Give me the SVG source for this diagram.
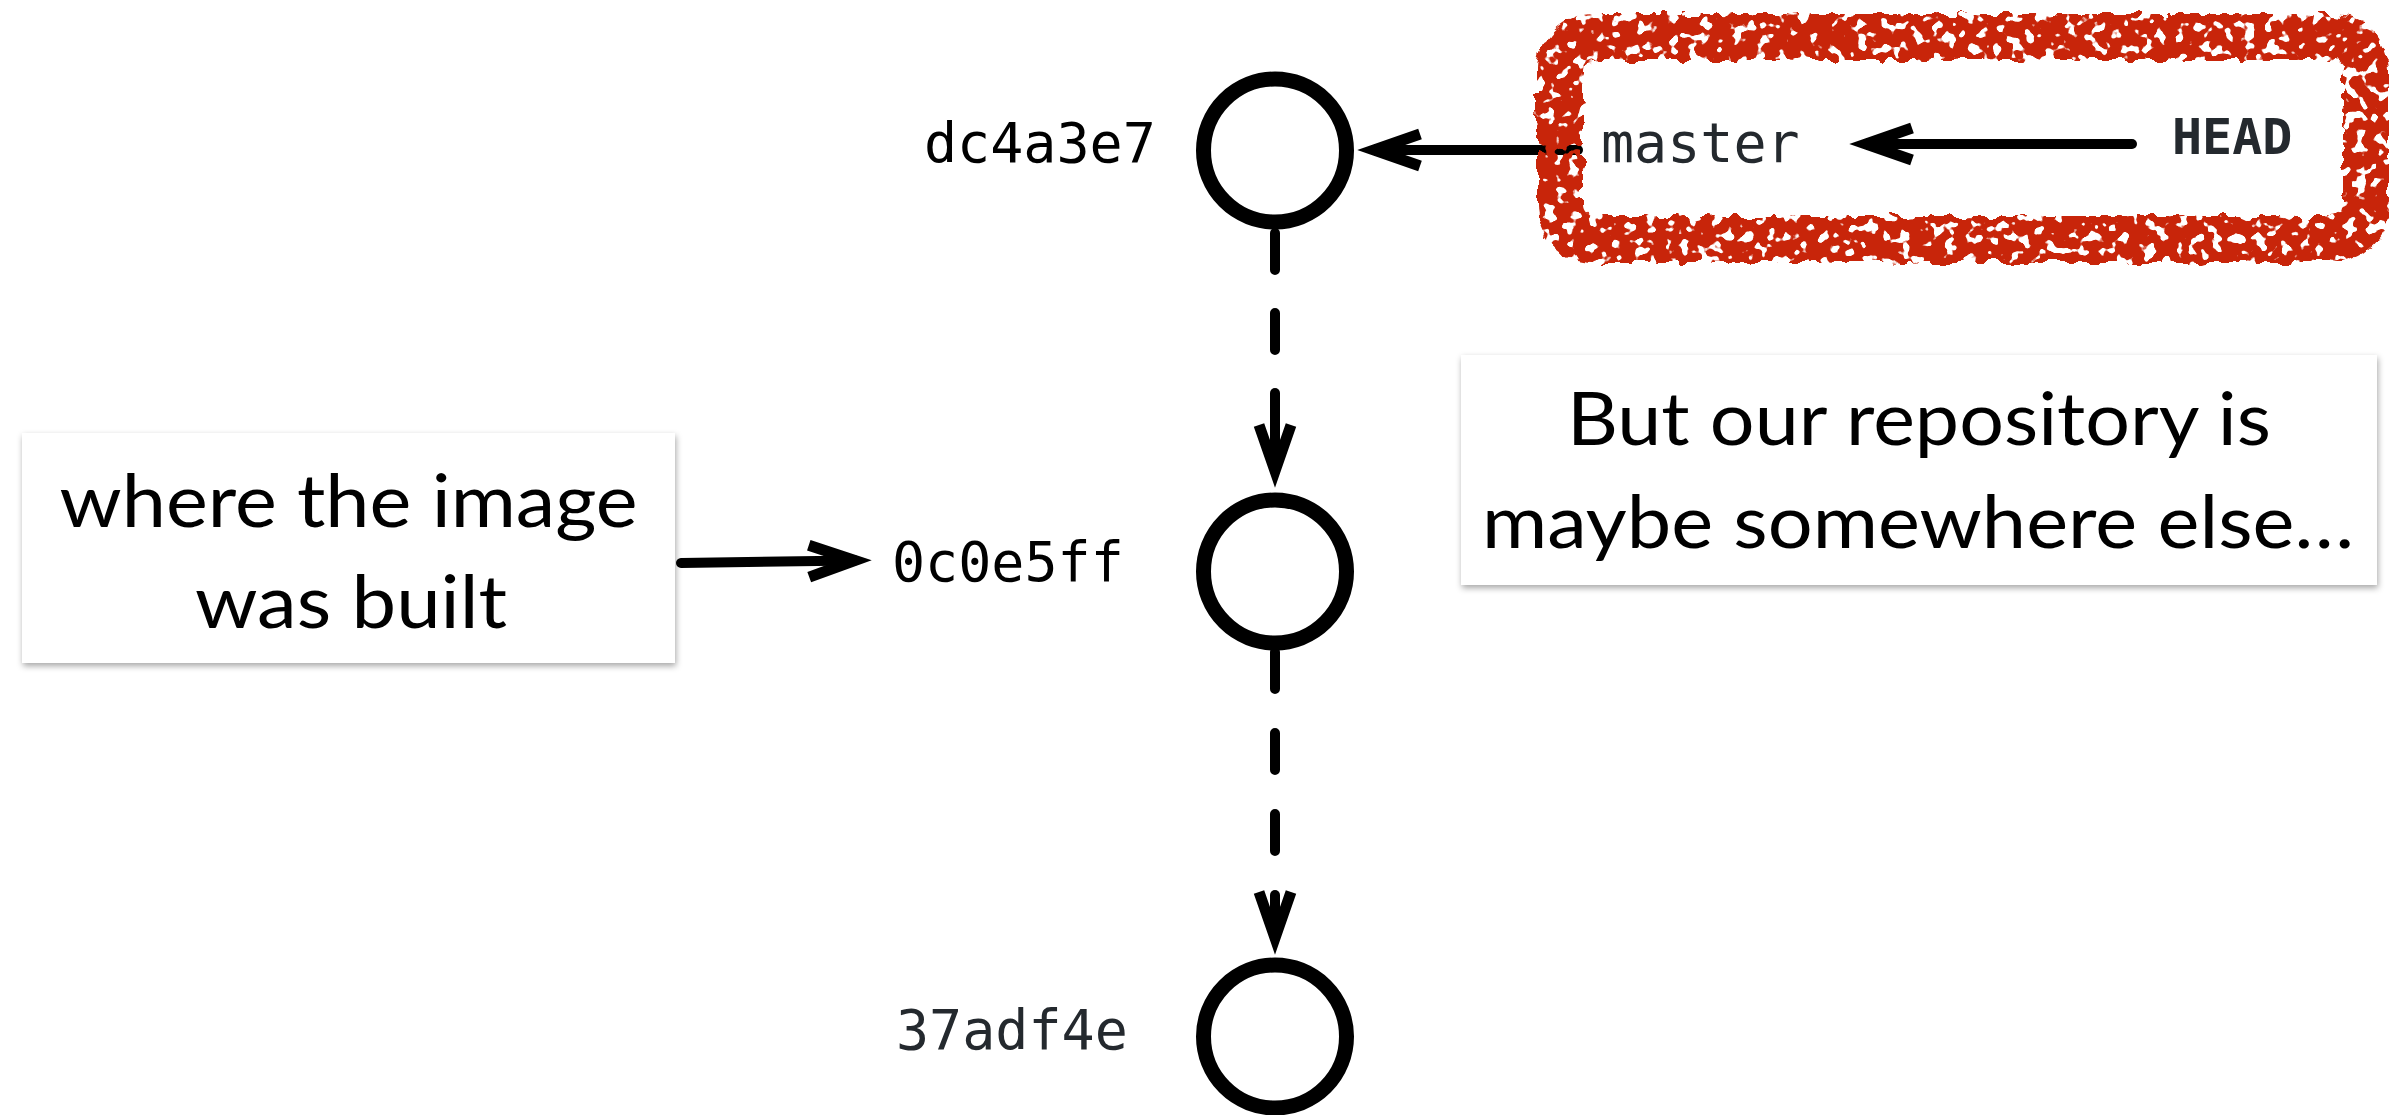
<svg xmlns="http://www.w3.org/2000/svg" width="2389" height="1115" viewBox="0 0 2389 1115">
  <style>
    .commit { fill: #ffffff; stroke: #000000; stroke-width: 15; }
    .hash { font-family: "DejaVu Sans Mono", "Liberation Mono", monospace; font-size: 55px; }
    .ref { font-family: "DejaVu Sans Mono", "Liberation Mono", monospace; fill: #24292e; }
    .note { fill: #ffffff; filter: url(#shadow); }
    .notetext { font-family: Lato, "Open Sans", "Liberation Sans", sans-serif; font-size: 74px; fill: #000000; text-anchor: middle; }
    .edge { fill: none; stroke: #000000; stroke-width: 10; stroke-linecap: round; }
    .dashed { stroke-dasharray: 37 43; }
    .dashed2 { stroke-dasharray: 37 44; }
  </style>
  <defs>
    <marker id="chev" viewBox="-80 -40 120 80" refX="0" refY="0" markerWidth="120" markerHeight="80" markerUnits="userSpaceOnUse" orient="auto">
      <path d="M-46,-16 L0,0 L-46,16" fill="none" stroke="#000000" stroke-width="11" stroke-linejoin="miter" stroke-miterlimit="6"/>
    </marker>
    <filter id="shadow" x="-5%" y="-5%" width="110%" height="115%">
      <feDropShadow dx="1" dy="3" stdDeviation="3" flood-color="#000000" flood-opacity="0.35"/>
    </filter>
    <filter id="grunge" filterUnits="userSpaceOnUse" x="1500" y="0" width="889" height="290" color-interpolation-filters="sRGB">
      <feTurbulence type="fractalNoise" baseFrequency="0.07" numOctaves="2" seed="4" result="warp"/>
      <feDisplacementMap in="SourceGraphic" in2="warp" scale="14" xChannelSelector="R" yChannelSelector="G" result="rough"/>
      <feTurbulence type="fractalNoise" baseFrequency="0.09" numOctaves="2" seed="11" result="spk"/>
      <feColorMatrix in="spk" type="matrix" values="0 0 0 0 0  0 0 0 0 0  0 0 0 0 0  -18 0 0 0 11.4" result="holes"/>
      <feComposite in="rough" in2="holes" operator="in"/>
    </filter>
  </defs>

  <g id="connectors">
    <g id="edge-dc4a3e7-0c0e5ff">
      <path class="edge dashed" d="M1275,233 V360"/>
      <path class="edge" d="M1275,393 V471" marker-end="url(#chev)"/>
    </g>
    <g id="edge-0c0e5ff-37adf4e">
      <path class="edge dashed2" d="M1275,652 V851"/>
      <path class="edge" d="M1275,895 V938" marker-end="url(#chev)"/>
    </g>
    <path id="edge-master-dc4a3e7" class="edge" d="M1578,150 H1374" marker-end="url(#chev)"/>
    <path id="edge-head-master" class="edge" d="M2132,144 H1866" marker-end="url(#chev)"/>
    <path id="edge-note-0c0e5ff" class="edge" d="M681,563 L855,560.5" marker-end="url(#chev)"/>
  </g>

  <g id="highlight">
    <rect x="1560" y="37" width="806" height="202" rx="34" ry="34" fill="none" stroke="#c8250a" stroke-width="46" filter="url(#grunge)"/>
  </g>

  <g id="commit-dc4a3e7">
    <circle class="commit" cx="1275" cy="150.5" r="71.5"/>
    <text class="hash" x="924" y="162" fill="#000000">dc4a3e7</text>
  </g>
  <g id="commit-0c0e5ff">
    <circle class="commit" cx="1275" cy="571.5" r="71.5"/>
    <text class="hash" x="892" y="581" fill="#000000">0c0e5ff</text>
  </g>
  <g id="commit-37adf4e">
    <circle class="commit" cx="1275" cy="1036.5" r="71.5"/>
    <text class="hash" x="896" y="1049" fill="#24292e">37adf4e</text>
  </g>

  <g id="ref-master">
    <text class="ref" x="1601" y="162" font-size="55">master</text>
  </g>
  <g id="ref-head">
    <text class="ref" x="2172" y="154" font-size="50" font-weight="bold">HEAD</text>
  </g>

  <g id="note-built">
    <rect class="note" x="22" y="433" width="653" height="230"/>
    <text class="notetext" x="348.5" y="527" textLength="578" lengthAdjust="spacingAndGlyphs">where the image</text>
    <text class="notetext" x="351" y="628" textLength="312" lengthAdjust="spacingAndGlyphs">was built</text>
  </g>

  <g id="note-repo">
    <rect class="note" x="1461" y="355" width="916" height="230"/>
    <text class="notetext" x="1919" y="445" textLength="704" lengthAdjust="spacingAndGlyphs">But our repository is</text>
    <text class="notetext" x="1918" y="548" textLength="872" lengthAdjust="spacingAndGlyphs">maybe somewhere else…</text>
  </g>
</svg>
